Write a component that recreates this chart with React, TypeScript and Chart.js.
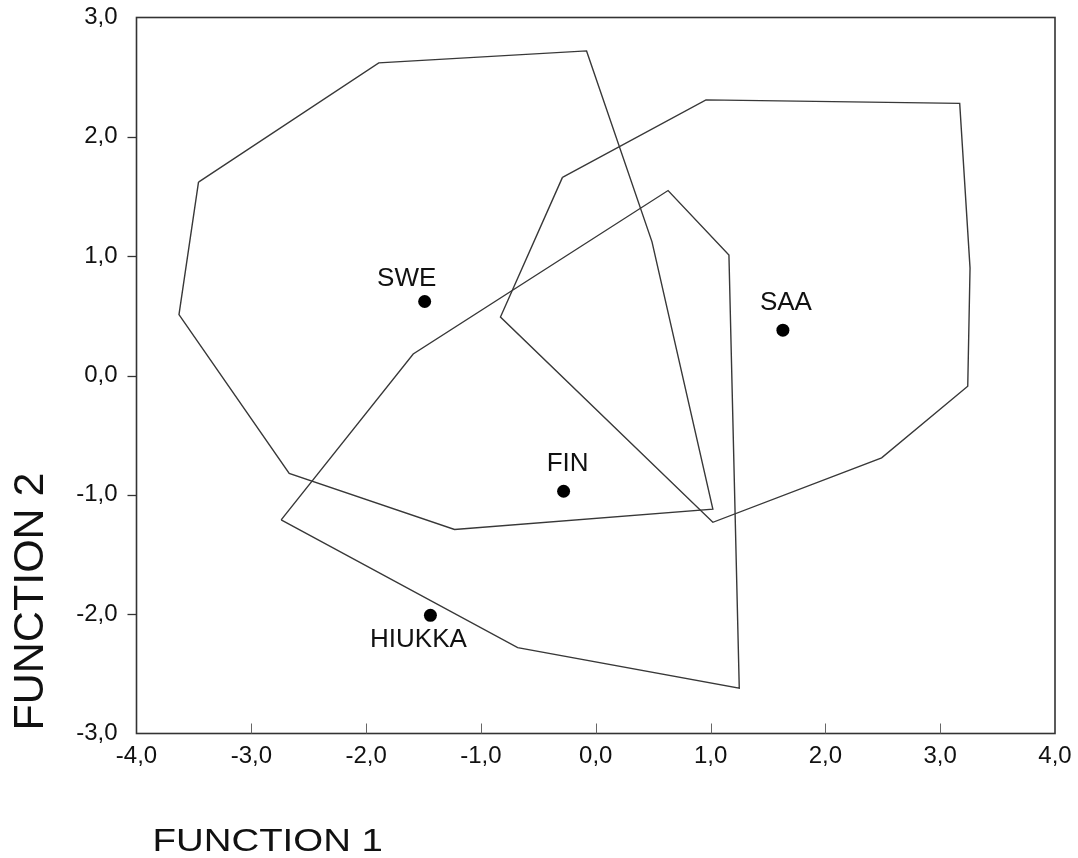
import { useEffect, useRef } from 'react';
import { Chart, registerables } from 'chart.js';

Chart.register(...registerables);

// ---- data ----
const groupNames = ['SWE', 'SAA', 'FIN', 'HIUKKA'];
const centroidX = [-1.49, 1.63, -0.28, -1.44];
const centroidY = [0.62, 0.38, -0.97, -2.01];

const sweX = [-3.46, -1.89, -0.08, 0.49, 1.02, -1.23, -2.67, -3.63];
const sweY = [1.62, 2.62, 2.72, 1.12, -1.12, -1.29, -0.82, 0.51];
const saaX = [-0.29, 0.96, 3.17, 3.26, 3.24, 2.49, 1.02, -0.83];
const saaY = [1.66, 2.31, 2.28, 0.9, -0.09, -0.69, -1.23, 0.49];
const hiukkaX = [-2.74, -1.59, 0.63, 1.16, 1.25, -0.68];
const hiukkaY = [-1.21, 0.18, 1.55, 1.01, -2.62, -2.28];

const xTickLabels = ['-4,0', '-3,0', '-2,0', '-1,0', '0,0', '1,0', '2,0', '3,0', '4,0'];
const yTickLabels = ['-3,0', '-2,0', '-1,0', '0,0', '1,0', '2,0', '3,0'];
const xTitle = 'FUNCTION 1';
const yTitle = 'FUNCTION 2';

// ---- styles ----
const labelOffsets = [
  [-18, -23],
  [3, -27],
  [4, -27],
  [-12, 24],
];
const LINE = '#383838';
const FONT = '"Liberation Sans", Arial, sans-serif';

function closedPolygon(xs: number[], ys: number[]) {
  const pts = xs.map((x, i) => ({ x, y: ys[i] }));
  pts.push({ x: xs[0], y: ys[0] });
  return pts;
}

const framePlugin = {
  id: 'frameTicksTitles',
  afterDraw(chart: any) {
    const { ctx, chartArea } = chart;
    const xs = chart.scales.x;
    const ys = chart.scales.y;
    const { left, right, top, bottom } = chartArea;
    ctx.save();
    // frame
    ctx.strokeStyle = '#333';
    ctx.lineWidth = 1.6;
    ctx.strokeRect(left, top, right - left, bottom - top);
    // x ticks (inside, pointing up)
    ctx.lineWidth = 1;
    ctx.strokeStyle = '#666';
    for (let v = -3; v <= 3; v++) {
      const px = Math.round(xs.getPixelForValue(v)) + 0.5;
      ctx.beginPath();
      ctx.moveTo(px, bottom);
      ctx.lineTo(px, bottom - 10);
      ctx.stroke();
    }
    // y ticks (outside, pointing left)
    ctx.strokeStyle = '#333';
    ctx.lineWidth = 1.3;
    for (let v = -2; v <= 2; v++) {
      const py = Math.round(ys.getPixelForValue(v)) + 0.5;
      ctx.beginPath();
      ctx.moveTo(left - 9, py);
      ctx.lineTo(left, py);
      ctx.stroke();
    }
    // axis titles
    ctx.fillStyle = '#111';
    ctx.textAlign = 'left';
    ctx.textBaseline = 'alphabetic';
    ctx.save();
    ctx.translate(43, bottom - 3);
    ctx.rotate(-Math.PI / 2);
    ctx.font = `43px ${FONT}`;
    ctx.fillText(yTitle, 0, 0);
    ctx.restore();
    ctx.save();
    ctx.translate(left + 16, 851);
    ctx.scale(1.2, 1);
    ctx.font = `32px ${FONT}`;
    ctx.fillText(xTitle, 0, 0);
    ctx.restore();
    ctx.restore();
  },
  afterDatasetsDraw(chart: any) {
    const { ctx } = chart;
    const xs = chart.scales.x;
    const ys = chart.scales.y;
    ctx.save();
    ctx.fillStyle = '#111';
    ctx.font = `26px ${FONT}`;
    ctx.textAlign = 'center';
    ctx.textBaseline = 'middle';
    groupNames.forEach((name, i) => {
      const px = xs.getPixelForValue(centroidX[i]);
      const py = ys.getPixelForValue(centroidY[i]);
      ctx.fillText(name, px + labelOffsets[i][0], py + labelOffsets[i][1]);
    });
    ctx.restore();
  },
};

export default function App() {
  const ref = useRef<HTMLCanvasElement>(null);
  useEffect(() => {
    if (!ref.current) return;
    const polyStyle = {
      showLine: true,
      borderColor: LINE,
      borderWidth: 1.4,
      pointRadius: 0,
      pointHoverRadius: 0,
      fill: false,
      tension: 0,
    };
    const chart = new Chart(ref.current, {
      type: 'scatter',
      data: {
        datasets: [
          { label: 'SWE', data: closedPolygon(sweX, sweY), ...polyStyle },
          { label: 'SAA', data: closedPolygon(saaX, saaY), ...polyStyle },
          { label: 'HIUKKA', data: closedPolygon(hiukkaX, hiukkaY), ...polyStyle },
          {
            label: 'Centroids',
            data: centroidX.map((x, i) => ({ x, y: centroidY[i] })),
            pointRadius: 6.5,
            pointBackgroundColor: '#000',
            pointBorderColor: '#000',
            pointBorderWidth: 0,
            showLine: false,
          },
        ],
      },
      options: {
        responsive: false,
        animation: false,
        events: [],
        layout: { padding: { left: 0, top: 17.5, right: 23, bottom: 0 } },
        plugins: {
          legend: { display: false },
          tooltip: { enabled: false },
          title: { display: false },
        },
        scales: {
          x: {
            type: 'linear',
            min: -4,
            max: 4,
            grid: { display: false, drawTicks: false },
            border: { display: false },
            afterFit: (s: any) => {
              s.height = 124.5;
              s.paddingLeft = 0;
              s.paddingRight = 0;
            },
            ticks: {
              stepSize: 1,
              padding: 8,
              color: '#111',
              font: { family: FONT, size: 24 },
              maxRotation: 0,
              autoSkip: false,
              callback: (v: any) => xTickLabels[Math.round(Number(v)) + 4],
            },
          },
          y: {
            type: 'linear',
            min: -3,
            max: 3,
            grid: { display: false, drawTicks: false },
            border: { display: false },
            afterFit: (s: any) => {
              s.width = 136.5;
              s.paddingTop = 0;
              s.paddingBottom = 0;
            },
            ticks: {
              stepSize: 1,
              padding: 19,
              color: '#111',
              font: { family: FONT, size: 24 },
              autoSkip: false,
              callback: (v: any) => yTickLabels[Math.round(Number(v)) + 3],
            },
          },
        },
      },
      plugins: [framePlugin],
    });
    return () => chart.destroy();
  }, []);
  return (
    <div style={{ position: 'fixed', left: 0, top: 0, width: 1078, height: 858, background: '#fff' }}>
      <canvas ref={ref} width={1078} height={858} style={{ display: 'block' }} />
    </div>
  );
}
